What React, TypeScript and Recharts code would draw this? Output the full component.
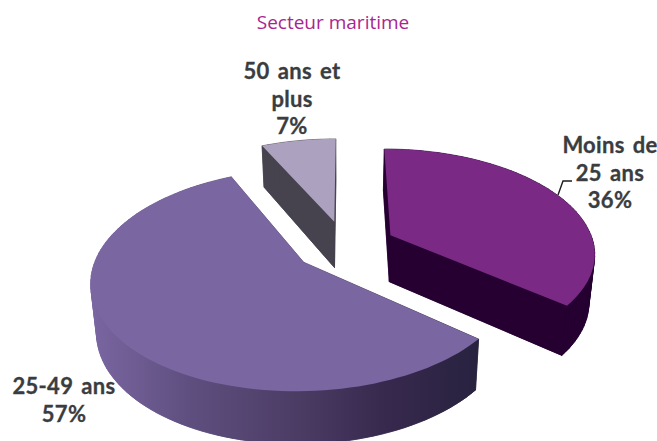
import { PieChart, Pie, Cell } from 'recharts';

const ages = ['Moins de 25 ans', '25-49 ans', '50 ans et plus'];
const shares = [36, 57, 7];
const labelRows = [['Moins de', '25 ans'], ['25-49 ans'], ['50 ans et', 'plus']];
const topColors = ['#7a2984', '#7a66a1', '#aca2bf'];
const sideColors = ['#250031', 'url(#bigWall)', '#46434f'];

const table = ages.map((name, i) => ({ name, value: shares[i], fill: topColors[i], side: sideColors[i] }));

// where each text block sits (centre x, first baseline)
const labelSpots = [
  { x: 610, y: 153 },
  { x: 64, y: 394 },
  { x: 292, y: 79 },
];

// tilted-disc view: the circle of the pie is seen in perspective
const TILT = 0.505;
const PERSPECTIVE = 0.158;
const EXPLODE = 0.25;
const DEPTH = 47;
const SHRINK = 0.977;

const Slice3D = (props: any) => {
  const { cx, cy, outerRadius, startAngle, endAngle, midAngle, fill, payload } = props;
  const rad = (d: number) => (d * Math.PI) / 180;
  const ou = EXPLODE * Math.cos(rad(midAngle));
  const ov = EXPLODE * Math.sin(rad(midAngle));

  const plane: [number, number][] = [[ou, ov]];
  const steps = Math.max(4, Math.ceil(Math.abs(endAngle - startAngle) / 2));
  for (let s = 0; s <= steps; s++) {
    const a = rad(startAngle + ((endAngle - startAngle) * s) / steps);
    plane.push([ou + Math.cos(a), ov + Math.sin(a)]);
  }

  const top = plane.map(([u, v]) => {
    const w = 1 + PERSPECTIVE * v;
    return [cx + (outerRadius * u) / w, cy - (outerRadius * TILT * v) / w];
  });
  const bottom = top.map(([x, y], i) => [cx + (x - cx) * SHRINK, y + DEPTH - 5 * plane[i][1]]);

  const toPath = (pts: number[][]) => 'M' + pts.map((p) => `${p[0].toFixed(1)},${p[1].toFixed(1)}`).join('L') + 'Z';
  const walls = top.map((p, i) => {
    const n = (i + 1) % top.length;
    return toPath([p, top[n], bottom[n], bottom[i]]);
  });

  return (
    <g>
      <path d={toPath(bottom)} fill={payload.side} stroke={payload.side} strokeWidth={0.6} />
      {walls.map((d, i) => (
        <path key={i} d={d} fill={payload.side} stroke={payload.side} strokeWidth={0.6} />
      ))}
      <path d={toPath(top)} fill={fill} />
    </g>
  );
};

const renderLabel = (props: any) => {
  const spot = labelSpots[props.index];
  const rows = [...labelRows[props.index], `${shares[props.index]}%`];
  return (
    <text
      x={spot.x}
      y={spot.y}
      textAnchor="middle"
      fill="#3a3d40"
      stroke="#3a3d40"
      strokeWidth={0.3}
      fontFamily="Lato"
      fontWeight={700}
      fontSize={22}
      letterSpacing={0.3}
      wordSpacing={2.5}
    >
      {rows.map((row, i) => (
        <tspan key={i} x={spot.x} y={spot.y + i * 27.5}>
          {row}
        </tspan>
      ))}
    </text>
  );
};

const renderLabelLine = (props: any) => {
  if (props.index !== 0) return <g />;
  return <polyline points="558,195 563,181 572,181" fill="none" stroke="#1d1d1b" strokeWidth={1.4} />;
};

export default function App() {
  return (
    <div style={{ position: 'absolute', left: 0, top: 0 }}>
      <PieChart width={657} height={441} margin={{ top: 0, right: 0, bottom: 0, left: 0 }}>
        <defs>
          <linearGradient id="bigWall" gradientUnits="userSpaceOnUse" x1="91" y1="0" x2="478" y2="0">
            <stop offset="0" stopColor="#7a66a1" />
            <stop offset="0.25" stopColor="#5f4f80" />
            <stop offset="0.55" stopColor="#4a3b63" />
            <stop offset="0.75" stopColor="#38294f" />
            <stop offset="1" stopColor="#28223f" />
          </linearGradient>
        </defs>
        <text x={333} y={29} textAnchor="middle" fill="#a8258f" fontFamily="Open Sans" fontSize={19}>
          Secteur maritime
        </text>
        <Pie
          data={table}
          dataKey="value"
          nameKey="name"
          cx={345}
          cy={246}
          innerRadius={0}
          outerRadius={204}
          startAngle={90}
          endAngle={-270}
          stroke="none"
          shape={Slice3D}
          label={renderLabel}
          labelLine={renderLabelLine}
          isAnimationActive={false}
        >
          {table.map((entry) => (
            <Cell key={entry.name} fill={entry.fill} />
          ))}
        </Pie>
      </PieChart>
    </div>
  );
}
